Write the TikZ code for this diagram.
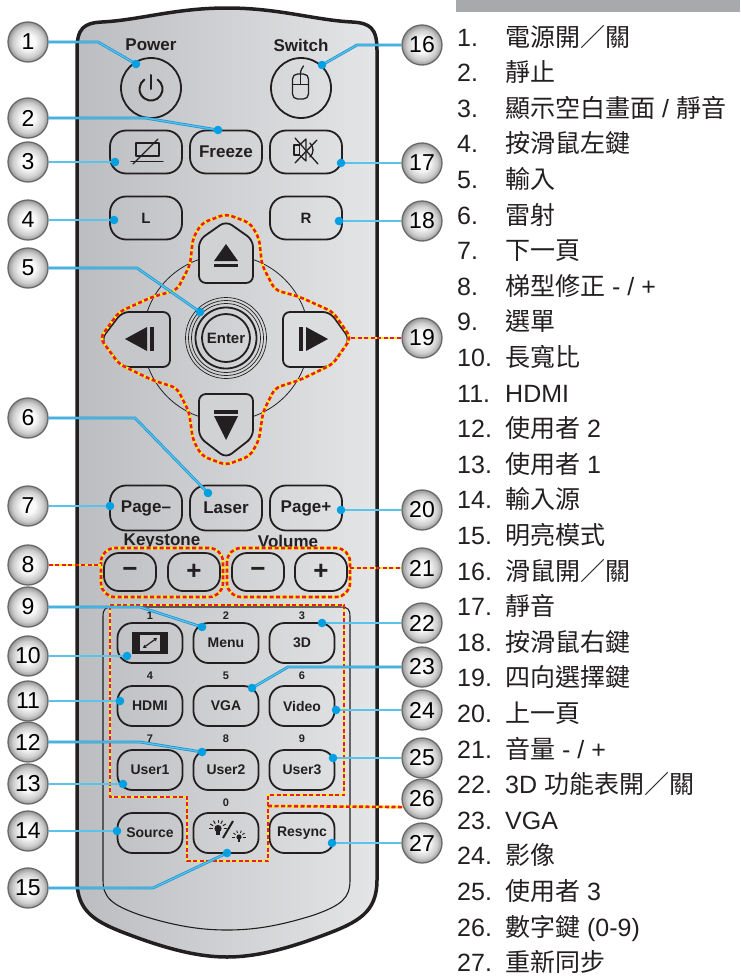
\documentclass[tikz,border=0pt]{standalone}
\usepackage{fontspec}
\setmainfont{Liberation Sans}
\newfontfamily\cjk{Noto Sans CJK TC}
\usetikzlibrary{calc,arrows.meta}
\newcommand\zh[1]{{\cjk #1}}

\definecolor{ink}{RGB}{35,31,32}
\definecolor{leadblue}{RGB}{30,150,210}
\definecolor{leadlight}{RGB}{90,195,235}
\definecolor{dotblue}{RGB}{0,160,227}
\definecolor{bodyL}{RGB}{188,189,192}
\definecolor{bodyR}{RGB}{228,229,231}
\definecolor{padleft}{RGB}{198,199,202}
\definecolor{padmid}{RGB}{209,210,212}
\definecolor{padright}{RGB}{220,221,223}
\definecolor{markred}{RGB}{237,28,36}
\definecolor{markyel}{RGB}{255,242,0}
\definecolor{bargray}{RGB}{167,169,172}
\definecolor{bubA}{RGB}{250,250,250}
\definecolor{bubB}{RGB}{205,205,205}
\definecolor{bubC}{RGB}{150,150,150}
\definecolor{bubEdge}{RGB}{105,105,105}
\definecolor{aspgray}{RGB}{200,200,202}

\pgfdeclareradialshading{bubble}{\pgfpoint{0bp}{0bp}}{color(0bp)=(bubA); color(9bp)=(bubA); color(19bp)=(bubB); color(25bp)=(bubC); color(50bp)=(bubC)}

\begin{document}
\begin{tikzpicture}[x=1pt,y=-1pt,
  keybox/.style={draw=ink, line width=1.8pt, rounded corners=16pt, minimum width=72pt, minimum height=43pt, inner sep=0pt, text=ink, font=\fontsize{17}{17}\selectfont\bfseries},
  roundkey/.style={circle, draw=ink, line width=1.8pt, minimum size=60pt, inner sep=0pt},
  pmkey/.style={keybox, minimum width=52pt, minimum height=38pt, rounded corners=15pt, font=\fontsize{26}{26}\selectfont\bfseries},
  padkey/.style={keybox, minimum width=65pt, minimum height=40pt, rounded corners=15pt, font=\fontsize{14}{14}\selectfont\bfseries},
  keylabel/.style={text=ink, inner sep=0pt, font=\fontsize{17}{17}\selectfont\bfseries},
  digit/.style={text=ink, inner sep=0pt, font=\fontsize{11}{11}\selectfont\bfseries},
  callout/.style={circle, draw=bubEdge, line width=1.3pt, minimum size=40pt, inner sep=0pt, shade, shading=bubble, text=black, font=\fontsize{23}{23}\selectfont},
  lead/.style={draw=leadblue, line width=0.8pt, double=leadlight, double distance=1.2pt},
  hilite/.style={draw=markyel, line width=2.6pt, postaction={draw=markred, line width=2.6pt, dash pattern=on 4pt off 2.5pt}},
  legnum/.style={anchor=base west, inner sep=0pt, text=ink, font=\fontsize{25}{25}\selectfont},
  legtxt/.style={legnum},
  icon/.style={draw=ink, line width=1.4pt, line cap=round, line join=round},
]
\useasboundingbox (0,0) rectangle (740,977);

% remote body
\shade[left color=bodyL, right color=bodyR, draw=ink, line width=3.5pt]
  (77,50) .. controls (77,28) and (84,23) .. (102,22)
  .. controls (140,20) and (175,8) .. (227,8)
  .. controls (279,8) and (314,20) .. (352,22)
  .. controls (370,23) and (377,28) .. (377,50)
  -- (377,880) .. controls (377,912) and (359,922) .. (324,935)
  .. controls (284,950) and (254,957) .. (227,957)
  .. controls (200,957) and (170,950) .. (130,935)
  .. controls (95,922) and (77,912) .. (77,880) -- cycle;

% inner panel line around the keypad
\draw[ink, line width=1.1pt]
  (103,880) -- (103,617) .. controls (103,609) and (105,607) .. (113,607)
  -- (340,607) .. controls (348,607) and (350,609) .. (350,617)
  -- (350,880) .. controls (350,898) and (342,905) .. (314,915)
  .. controls (279,926) and (254,930) .. (227,930)
  .. controls (200,930) and (175,926) .. (140,915)
  .. controls (112,905) and (103,898) .. (103,880);

% top row
\node[keylabel] (tpower) at (151,45) {Power};
\node[keylabel] (tswitch) at (301,45) {Switch};
\node[roundkey] (bpower) at (151,88) {};
\node[roundkey] (bswitch) at (301,88) {};
\draw[icon, line width=2pt] (157.6,79.6) arc[start angle=305, end angle=595, radius=11.5];
\draw[icon, line width=2pt] (151,75) -- (151,89);
\draw[icon, line width=1.3pt, rounded corners=5pt] (292.5,74) rectangle (308.5,99);
\draw[icon, line width=1.3pt] (292.5,84.5) -- (308.5,84.5) (300.5,74) -- (300.5,84.5);
\draw[icon, line width=1.3pt] (300.5,74) .. controls (300.5,70) and (302,68) .. (303.5,66);

% second row
\node[keybox] (bblank) at (146,152) {};
\node[keybox] (bfreeze) at (226,152) {Freeze};
\node[keybox] (bmute) at (306,152) {};
\draw[icon] (136,143) rectangle (159,156);
\draw[icon] (131,161.5) -- (163,161.5);
\draw[icon] (133,164) -- (158,139);
\draw[icon, line width=1.3pt] (294,145) rectangle (299.5,155);
\draw[icon, line width=1.3pt] (299.5,145) -- (306,139) -- (306,161) -- (299.5,155);
\draw[icon, line width=1.3pt] (310,143) .. controls (314,147) and (314,153) .. (310,157);
\draw[icon, line width=1.3pt] (295,138) -- (318,164) (317,140) -- (295,163);

\node[keybox, font=\fontsize{15}{15}\selectfont\bfseries] (bl) at (146,218) {L};
\node[keybox, font=\fontsize{15}{15}\selectfont\bfseries] (br) at (306,218) {R};

% direction pad
\node[circle, draw=ink, line width=0.8pt, minimum size=166pt, inner sep=0pt] (dring) at (226,338) {};
\filldraw[draw=ink, fill=padmid, line width=1.8pt, rounded corners=7pt]
  (199,283) -- (199,240) -- (226,221) -- (253,240) -- (253,283) -- cycle;
\fill[ink] (226,244) -- (238,261) -- (214,261) -- cycle;
\fill[ink] (214,263.5) rectangle (238,267);
\filldraw[draw=ink, fill=padmid, line width=1.8pt, rounded corners=7pt]
  (199,394) -- (253,394) -- (253,437) -- (226,458) -- (199,437) -- cycle;
\fill[ink] (214,410) rectangle (238,413.5);
\fill[ink] (214,416) -- (238,416) -- (226,440) -- cycle;
\filldraw[draw=ink, fill=padleft, line width=1.8pt, rounded corners=7pt]
  (170,312) -- (170,367) -- (122,367) -- (101,339.5) -- (122,312) -- cycle;
\fill[ink] (125,339) -- (147,327) -- (147,351) -- cycle;
\fill[ink] (150,327) rectangle (154,351);
\filldraw[draw=ink, fill=padright, line width=1.8pt, rounded corners=7pt]
  (283,312) -- (330,312) -- (350,339.5) -- (330,367) -- (283,367) -- cycle;
\fill[ink] (328,339) -- (306,327) -- (306,351) -- cycle;
\fill[ink] (299,327) rectangle (303,351);
\draw[ink, line width=0.7pt] (226,338) circle[radius=40.5] (226,338) circle[radius=37.5] (226,338) circle[radius=34.5];
\draw[ink, line width=1.8pt] (226,338) circle[radius=30.5];
\node[circle, draw=ink, line width=1.8pt, minimum size=48pt, inner sep=0pt, text=ink, font=\fontsize{15}{15}\selectfont\bfseries] (benter) at (226,338) {Enter};

\draw[hilite, rounded corners=6pt]
  (226,214) -- (250,223) -- (259,238) -- (262,265) -- (275,290) -- (300,297) -- (333,312) -- (351,338)
  -- (333,364) -- (300,380) -- (275,388) -- (263,412) -- (259,440) -- (250,456) -- (226,465)
  -- (202,456) -- (193,440) -- (189,412) -- (177,388) -- (152,380) -- (119,364) -- (100,338)
  -- (119,312) -- (152,297) -- (177,290) -- (190,265) -- (193,238) -- (202,223) -- cycle;

% page row
\node[keybox, minimum height=45pt] (bpgdn) at (146,508) {Page–};
\node[keybox, minimum height=45pt] (blaser) at (226,508) {Laser};
\node[keybox, minimum height=45pt] (bpgup) at (306,508) {Page+};

% keystone and volume
\node[keylabel] (tkey) at (162,541) {Keystone};
\node[keylabel] (tvol) at (288,541) {Volume};
\node[pmkey] (kminus) at (130,572) {−};
\node[pmkey] (kplus) at (194,572) {+};
\node[pmkey] (vminus) at (258,572) {−};
\node[pmkey] (vplus) at (321,572) {+};
\draw[hilite, rounded corners=14pt] (101,548) rectangle (223,597);
\draw[hilite, rounded corners=14pt] (227,548) rectangle (350,597);

% keypad
\node[digit] (k1) at (150,616) {1};
\node[digit] (k2) at (226,616) {2};
\node[digit] (k3) at (302,616) {3};
\node[digit] (k4) at (150,676) {4};
\node[digit] (k5) at (226,676) {5};
\node[digit] (k6) at (302,676) {6};
\node[digit] (k7) at (150,739) {7};
\node[digit] (k8) at (226,739) {8};
\node[digit] (k9) at (302,739) {9};
\node[digit] (k0) at (226,803) {0};
\node[padkey] (baspect) at (150,643) {};
\node[padkey] (bmenu) at (226,643) {Menu};
\node[padkey] (b3d) at (302,643) {3D};
\node[padkey] (bhdmi) at (150,706) {HDMI};
\node[padkey] (bvga) at (226,706) {VGA};
\node[padkey] (bvideo) at (302,706) {Video};
\node[padkey] (buser1) at (150,770) {User1};
\node[padkey] (buser2) at (226,770) {User2};
\node[padkey] (buser3) at (302,770) {User3};
\node[padkey] (bsource) at (150,833) {Source};
\node[padkey] (bbright) at (226,833) {};
\node[padkey] (bresync) at (302,833) {Resync};

% aspect ratio icon
\fill[ink] (132,632) rectangle (168,654);
\fill[aspgray] (140,635) rectangle (160,651);
\draw[ink, line width=1.2pt, {Triangle[length=3pt,width=3.5pt]}-{Triangle[length=3pt,width=3.5pt]}] (143,648) -- (157,638);

% brightness icon
\fill[ink] (218,828.5) circle (3.6pt);
\fill[ink] (216.3,831) rectangle (219.7,835);
\foreach \a in {180,210,240,270,300,330,360}
  \draw[ink, line width=1pt] ($(218,828.5)+(\a:5.5)$) -- ($(218,828.5)+(\a:9)$);
\draw[ink, line width=2pt] (223,838) -- (233,821);
\fill[ink] (239,837) circle (2.6pt);
\fill[ink] (237.8,839) rectangle (240.2,841.5);
\foreach \a in {180,215,250,290,325,360}
  \draw[ink, line width=0.9pt] ($(239,837)+(\a:4.2)$) -- ($(239,837)+(\a:6.8)$);

\draw[hilite] (110,605) -- (344,605) -- (344,795) -- (268,795) -- (268,861) -- (187,861) -- (187,797) -- (110,797) -- cycle;

% callouts
\node[callout] (c1) at (28,42) {1};
\node[callout] (c2) at (28,118) {2};
\node[callout] (c3) at (28,162) {3};
\node[callout] (c4) at (28,220) {4};
\node[callout] (c5) at (28,268) {5};
\node[callout] (c6) at (28,418) {6};
\node[callout] (c7) at (28,506) {7};
\node[callout] (c8) at (28,565) {8};
\node[callout] (c9) at (28,607) {9};
\node[callout] (c10) at (28,656) {10};
\node[callout] (c11) at (28,701) {11};
\node[callout] (c12) at (28,742) {12};
\node[callout] (c13) at (28,784) {13};
\node[callout] (c14) at (28,831) {14};
\node[callout] (c15) at (28,888) {15};
\node[callout] (c16) at (422,45) {16};
\node[callout] (c17) at (422,163) {17};
\node[callout] (c18) at (422,221) {18};
\node[callout] (c19) at (422,338) {19};
\node[callout] (c20) at (422,510) {20};
\node[callout] (c21) at (422,568) {21};
\node[callout] (c22) at (422,623) {22};
\node[callout] (c23) at (422,667) {23};
\node[callout] (c24) at (422,710) {24};
\node[callout] (c25) at (422,758) {25};
\node[callout] (c26) at (422,799) {26};
\node[callout] (c27) at (422,843) {27};

% leader end points
\coordinate (d1) at (136,64);
\coordinate (d2) at (218,130);
\coordinate (d3) at (115,162);
\coordinate (d4) at (114,220);
\coordinate (d5) at (200,312);
\coordinate (d6) at (208,493);
\coordinate (d7) at (110,506);
\coordinate (d9) at (202,627);
\coordinate (d10) at (127,656);
\coordinate (d11) at (120,701);
\coordinate (d12) at (202,752);
\coordinate (d13) at (123,784);
\coordinate (d14) at (117,831);
\coordinate (d15) at (227,853);
\coordinate (d16) at (322,65);
\coordinate (d17) at (341,163);
\coordinate (d18) at (339,221);
\coordinate (d20) at (341,510);
\coordinate (d22) at (322,623);
\coordinate (d23) at (252,688);
\coordinate (d24) at (336,710);
\coordinate (d25) at (333,758);
\coordinate (d27) at (332,843);

\draw[lead] (c1.east) -- (98,42) -- (d1);
\draw[lead] (c2.east) -- (145,118) -- (d2);
\draw[lead] (c3.east) -- (d3);
\draw[lead] (c4.east) -- (d4);
\draw[lead] (c5.east) -- (137,268) -- (d5);
\draw[lead] (c6.east) -- (135,418) -- (d6);
\draw[lead] (c7.east) -- (d7);
\draw[lead] (c9.east) -- (140,607) -- (d9);
\draw[lead] (c10.east) -- (d10);
\draw[lead] (c11.east) -- (d11);
\draw[lead] (c12.east) -- (140,742) -- (d12);
\draw[lead] (c13.east) -- (d13);
\draw[lead] (c14.east) -- (d14);
\draw[lead] (c15.east) -- (153,888) -- (d15);
\draw[lead] (c16.west) -- (357,45) -- (d16);
\draw[lead] (c17.west) -- (d17);
\draw[lead] (c18.west) -- (d18);
\draw[lead] (c20.west) -- (d20);
\draw[lead] (c22.west) -- (d22);
\draw[lead] (c23.west) -- (288,667) -- (d23);
\draw[lead] (c24.west) -- (d24);
\draw[lead] (c25.west) -- (d25);
\draw[lead] (c27.west) -- (d27);
\foreach \p in {d1,d2,d3,d4,d5,d6,d7,d9,d10,d11,d12,d13,d14,d15,d16,d17,d18,d20,d22,d23,d24,d25,d27}
  \fill[dotblue] (\p) circle (4.3pt);

\draw[hilite] (c8.east) -- (101,565);
\draw[hilite] (351,338) -- (c19.west);
\draw[hilite] (350,568) -- (c21.west);
\draw[hilite] (268,806) -- (c26.203);

% legend
\fill[bargray] (456,0) rectangle (740,12);
\foreach \i/\t in {
 1/{\zh{電源開／關}},
 2/{\zh{靜止}},
 3/{\zh{顯示空白畫面} / \zh{靜音}},
 4/{\zh{按滑鼠左鍵}},
 5/{\zh{輸入}},
 6/{\zh{雷射}},
 7/{\zh{下一頁}},
 8/{\zh{梯型修正} - / +},
 9/{\zh{選單}},
 10/{\zh{長寬比}},
 11/{HDMI},
 12/{\zh{使用者} 2},
 13/{\zh{使用者} 1},
 14/{\zh{輸入源}},
 15/{\zh{明亮模式}},
 16/{\zh{滑鼠開／關}},
 17/{\zh{靜音}},
 18/{\zh{按滑鼠右鍵}},
 19/{\zh{四向選擇鍵}},
 20/{\zh{上一頁}},
 21/{\zh{音量} - / +},
 22/{3D \zh{功能表開／關}},
 23/{VGA},
 24/{\zh{影像}},
 25/{\zh{使用者} 3},
 26/{\zh{數字鍵} (0-9)},
 27/{\zh{重新同步}}}
{
  \node[legnum] (n\i) at (457,{46+(\i-1)*35.6}) {\i.};
  \node[legtxt] (t\i) at (505,{46+(\i-1)*35.6}) {\t};
}
\end{tikzpicture}
\end{document}
